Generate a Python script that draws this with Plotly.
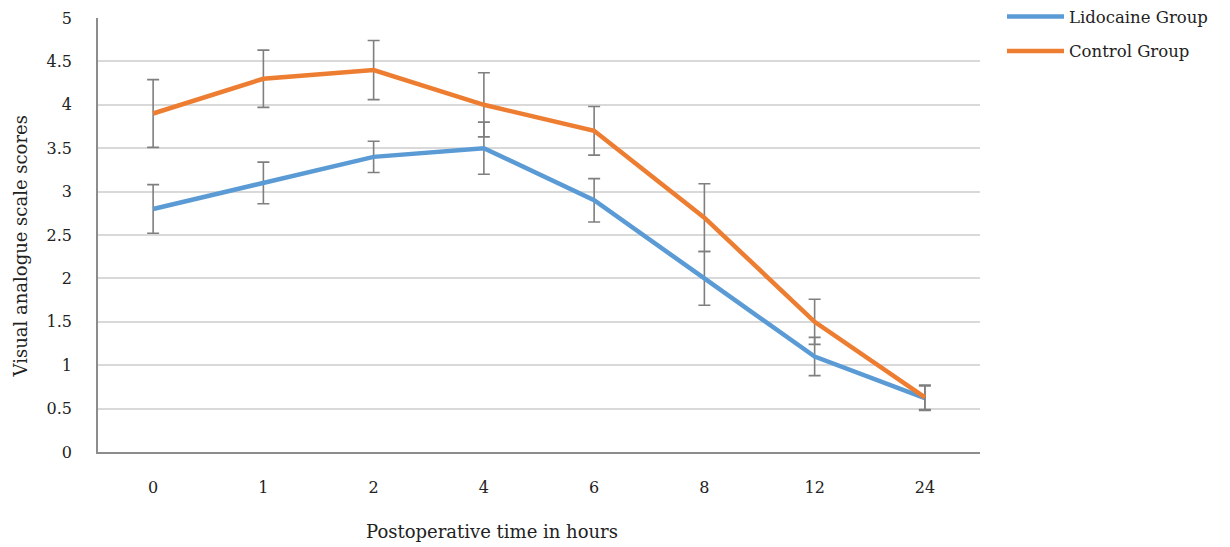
import plotly.graph_objects as go

categories = ["0", "1", "2", "4", "6", "8", "12", "24"]
lidocaine = [2.8, 3.1, 3.4, 3.5, 2.9, 2.0, 1.1, 0.62]
lidocaine_err = [0.28, 0.24, 0.18, 0.30, 0.25, 0.31, 0.22, 0.14]
control = [3.9, 4.3, 4.4, 4.0, 3.7, 2.7, 1.5, 0.63]
control_err = [0.39, 0.33, 0.34, 0.37, 0.28, 0.39, 0.26, 0.14]
y_ticks = [0, 0.5, 1, 1.5, 2, 2.5, 3, 3.5, 4, 4.5, 5]
x_title = "Postoperative time in hours"
y_title = "Visual analogue scale scores"

FONT = "DejaVu Serif"
err_style = dict(type="data", color="#7f7f7f", thickness=1.6, width=6, visible=True)

fig = go.Figure()
fig.add_trace(go.Scatter(
    x=categories, y=lidocaine, mode="lines", name="Lidocaine Group",
    line=dict(color="#5B9BD5", width=4.5), legendgroup="a",
    error_y=dict(array=lidocaine_err, **err_style),
))
fig.add_trace(go.Scatter(
    x=categories, y=control, mode="lines", name="Control Group",
    line=dict(color="#ED7D31", width=4.5), legendgroup="b",
    error_y=dict(array=control_err, **err_style),
))

# Axis titles (placed off-centre, as in the reference)
fig.add_annotation(text=x_title, xref="paper", yref="paper",
                   x=(492 - 98) / 882, y=(452 - 531) / 434,
                   xanchor="center", yanchor="middle", showarrow=False,
                   font=dict(family=FONT, size=18, color="#222"))
fig.add_annotation(text=y_title, xref="paper", yref="paper",
                   x=(20 - 98) / 882, y=(452 - 246.5) / 434, textangle=-90,
                   xanchor="center", yanchor="middle", showarrow=False,
                   font=dict(family=FONT, size=18, color="#222"))

# The page body adds an 8px offset, so margins compensate for it.
fig.update_layout(
    width=1230, height=547,
    margin=dict(l=90, r=258, t=10, b=103, autoexpand=False),
    paper_bgcolor="white", plot_bgcolor="white",
    font=dict(family=FONT, size=16, color="#222"),
    legend=dict(x=(1002 - 98) / 882, y=1.043, xanchor="left", yanchor="top",
                font=dict(family=FONT, size=16.5, color="#222"),
                itemwidth=57, tracegroupgap=10, bgcolor="rgba(0,0,0,0)"),
    xaxis=dict(type="category", range=[-0.5, 7.5], showgrid=False,
               showline=True, linecolor="#8c8c8c", linewidth=1.5,
               ticks="", ticklabelstandoff=20,
               tickfont=dict(size=16)),
    yaxis=dict(range=[0, 5], tickvals=y_ticks, ticktext=[f"{v:g}" for v in y_ticks],
               showgrid=True, gridcolor="#d9d9d9", gridwidth=1.5,
               showline=True, linecolor="#8c8c8c", linewidth=1.5,
               zeroline=False, ticks="", ticklabelstandoff=21,
               tickfont=dict(size=16)),
)

fig.write_html("out.html")
